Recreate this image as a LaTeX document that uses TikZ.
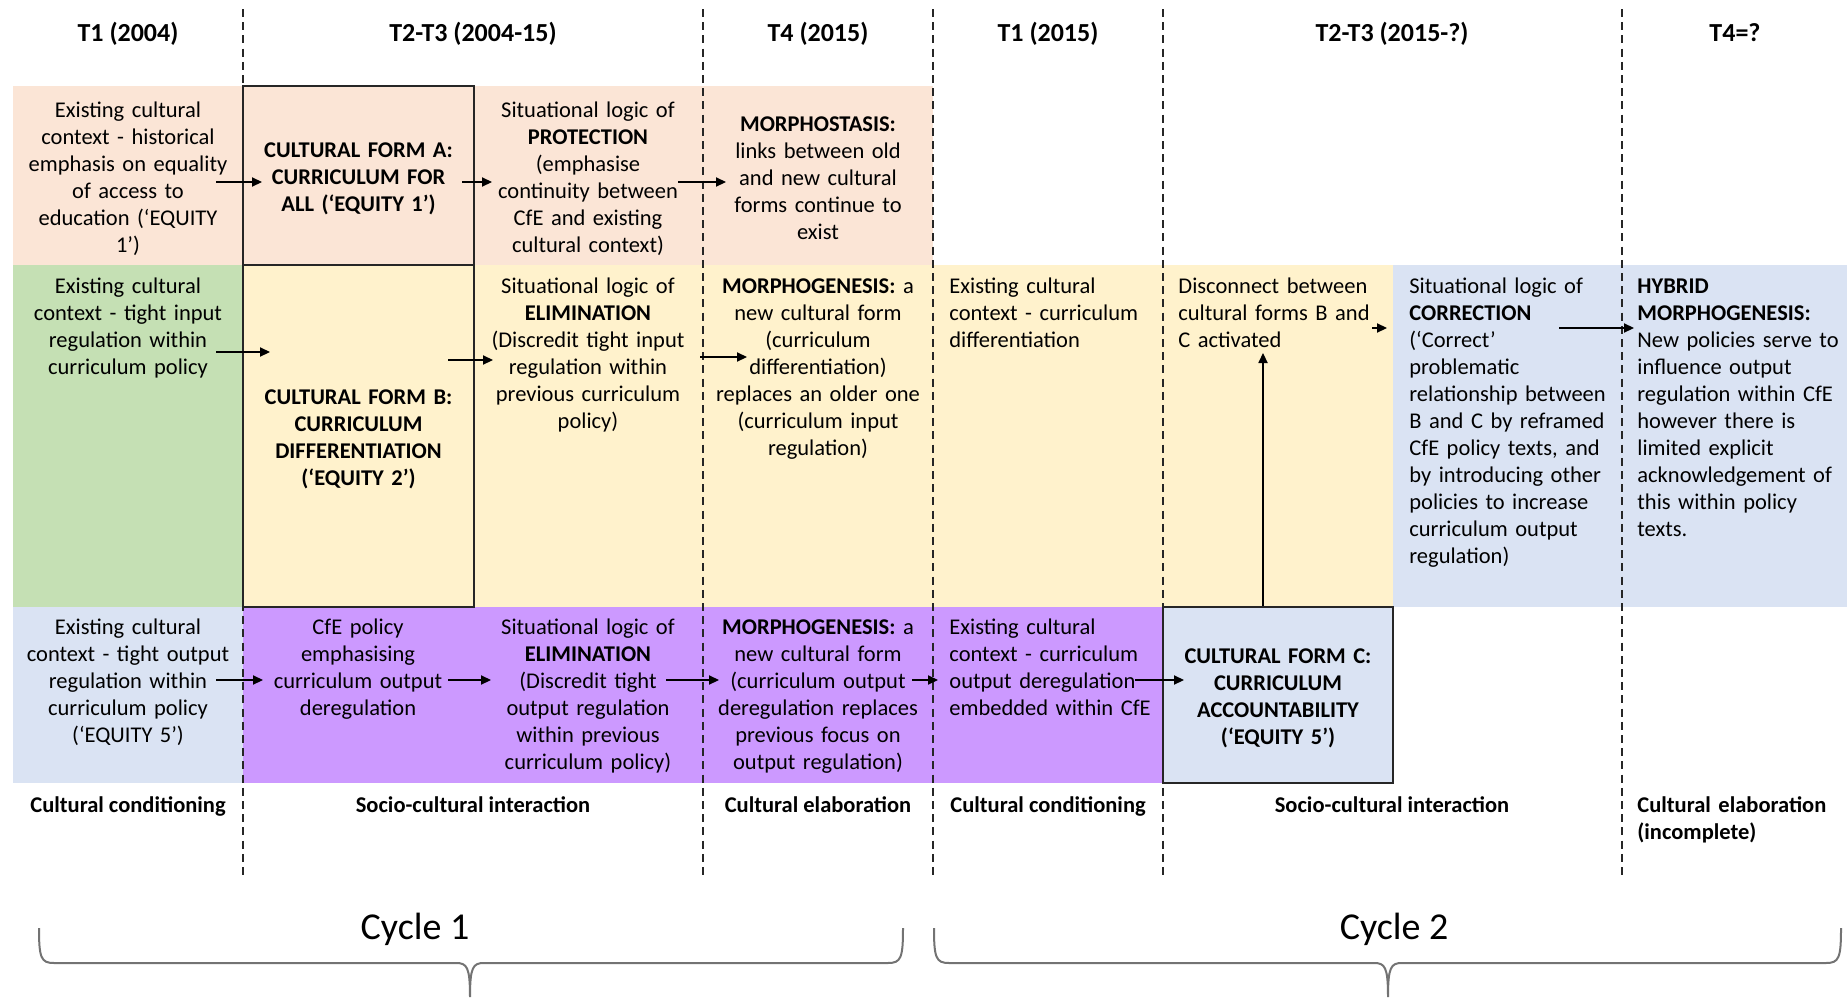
\documentclass[tikz,border=0pt]{standalone}
\usepackage{fontspec}
\setmainfont{Carlito}
\usetikzlibrary{arrows.meta}

\definecolor{peach}{RGB}{251,229,214}
\definecolor{sage}{RGB}{197,224,180}
\definecolor{cream}{RGB}{255,242,204}
\definecolor{mist}{RGB}{218,227,243}
\definecolor{lilac}{RGB}{204,153,255}

\tikzset{
  txt/.style={inner sep=0pt, text=black, font=\fontsize{11.25}{13.5}\selectfont,
    execute at begin node=\strut, execute at end node=\strut},
  cellC/.style={txt, text width=112pt, align=center},
  cellL/.style={txt, text width=112pt, align=left, anchor=north west},
  formbox/.style={draw=black!85, line width=1.3pt, inner sep=0pt,
    font=\fontsize{11.25}{13.5}\selectfont\bfseries, text width=110pt, align=center,
    execute at begin node={\rule{0pt}{12.6pt}}, execute at end node=\strut},
  hdr/.style={inner sep=0pt, anchor=base, font=\fontsize{13}{15.6}\selectfont\bfseries},
  foot/.style={inner sep=0pt, anchor=base, font=\fontsize{11.25}{13.5}\selectfont\bfseries},
  cyc/.style={inner sep=0pt, anchor=base, font=\fontsize{19}{23}\selectfont},
  flow/.style={-{Triangle[length=5pt,width=4.6pt]}, line width=0.6pt, black},
  sep/.style={line width=1pt, dash pattern=on 4pt off 2.6pt, black!85},
  brc/.style={line width=1pt, black!55},
}

\begin{document}
\begin{tikzpicture}[x=0.5pt,y=-0.5pt]
\useasboundingbox (0,0) rectangle (1847,997);

% coloured bands of the three rows
\fill[peach] (13,86) rectangle (933,265);
\fill[sage]  (13,265) rectangle (243,607);
\fill[cream] (243,265) rectangle (1393,607);
\fill[mist]  (1393,265) rectangle (1847,607);
\fill[mist]  (13,607) rectangle (243,783);
\fill[lilac] (243,607) rectangle (1163,783);

% dashed phase separators
\foreach \x in {243,703,933,1163,1622}
  \draw[sep] (\x,9) -- (\x,879);

% phase headings
\node[hdr] (h1) at (128,41)  {T1 (2004)};
\node[hdr] (h2) at (473,41)  {T2-T3 (2004-15)};
\node[hdr] (h3) at (818,41)  {T4 (2015)};
\node[hdr] (h4) at (1048,41) {T1 (2015)};
\node[hdr] (h5) at (1392,41) {T2-T3 (2015-?)};
\node[hdr] (h6) at (1735,41) {T4=?};

% cultural forms
\node[formbox, fill=peach, minimum width=115.5pt, minimum height=89.5pt] (formA) at (358.5,175.5)
  {CULTURAL FORM A:\\CURRICULUM FOR\\ALL (‘EQUITY 1’)};
\node[formbox, fill=cream, minimum width=115.5pt, minimum height=171pt] (formB) at (358.5,436)
  {CULTURAL FORM B:\\CURRICULUM\\DIFFERENTIATION\\(‘EQUITY 2’)};
\node[formbox, fill=mist, minimum width=115pt, minimum height=88pt] (formC) at (1278,695)
  {CULTURAL FORM C:\\CURRICULUM\\ACCOUNTABILITY\\(‘EQUITY 5’)};

% row 1
\node[cellC] (r1c1) at (128,180) {Existing cultural\\context - historical\\emphasis on equality\\of access to\\education (‘EQUITY\\1’)};
\node[cellC] (r1c3) at (588,180) {Situational logic of\\\textbf{PROTECTION}\\(emphasise\\continuity between\\CfE and existing\\cultural context)};
\node[cellC] (r1c4) at (818,180) {\textbf{MORPHOSTASIS:}\\links between old\\and new cultural\\forms continue to\\exist};

% row 2
\node[cellC, anchor=north] (r2c1) at (128,274) {Existing cultural\\context - tight input\\regulation within\\curriculum policy};
\node[cellC, anchor=north] (r2c3) at (588,274) {Situational logic of\\\textbf{ELIMINATION}\\(Discredit tight input\\regulation within\\previous curriculum\\policy)};
\node[cellC, anchor=north] (r2c4) at (818,274) {\textbf{MORPHOGENESIS:} a\\new cultural form\\(curriculum\\differentiation)\\replaces an older one\\(curriculum input\\regulation)};
\node[cellL] (r2c5) at (949,274) {Existing cultural\\context - curriculum\\differentiation};
\node[cellL] (r2c6) at (1178,274) {Disconnect between\\cultural forms B and\\C activated};
\node[cellL] (r2c7) at (1409,274) {Situational logic of\\\textbf{CORRECTION}\\(‘Correct’\\problematic\\relationship between\\B and C by reframed\\CfE policy texts, and\\by introducing other\\policies to increase\\curriculum output\\regulation)};
\node[cellL] (r2c8) at (1637,274) {\textbf{HYBRID}\\\textbf{MORPHOGENESIS:}\\New policies serve to\\influence output\\regulation within CfE\\however there is\\limited explicit\\acknowledgement of\\this within policy\\texts.};

% row 3
\node[cellC, anchor=north] (r3c1) at (128,615) {Existing cultural\\context - tight output\\regulation within\\curriculum policy\\(‘EQUITY 5’)};
\node[cellC, anchor=north] (r3c2) at (358,615) {CfE policy\\emphasising\\curriculum output\\deregulation};
\node[cellC, anchor=north] (r3c3) at (588,615) {Situational logic of\\\textbf{ELIMINATION}\\(Discredit tight\\output regulation\\within previous\\curriculum policy)};
\node[cellC, anchor=north] (r3c4) at (818,615) {\textbf{MORPHOGENESIS:} a\\new cultural form\\(curriculum output\\deregulation replaces\\previous focus on\\output regulation)};
\node[cellL] (r3c5) at (949,615) {Existing cultural\\context - curriculum\\output deregulation\\embedded within CfE};

% phase names
\node[foot] (f1) at (128,812)  {Cultural conditioning};
\node[foot] (f2) at (473,812)  {Socio-cultural interaction};
\node[foot] (f3) at (818,812)  {Cultural elaboration};
\node[foot] (f4) at (1048,812) {Cultural conditioning};
\node[foot] (f5) at (1392,812) {Socio-cultural interaction};
\node[cellL, font=\fontsize{11.25}{13.5}\selectfont\bfseries] (f6) at (1637,793) {Cultural elaboration\\(incomplete)};

% arrow end points
\coordinate (a1s) at (216,182);  \coordinate (a1e) at (262,182);
\coordinate (a2s) at (462,182);  \coordinate (a2e) at (492,182);
\coordinate (a3s) at (678,182);  \coordinate (a3e) at (726,182);
\coordinate (b1s) at (216,352);  \coordinate (b1e) at (270,352);
\coordinate (b2s) at (448,360);  \coordinate (b2e) at (493,360);
\coordinate (b3s) at (700,357);  \coordinate (b3e) at (747,357);
\coordinate (b4s) at (1372,328); \coordinate (b4e) at (1387,328);
\coordinate (b5s) at (1559,328); \coordinate (b5e) at (1634,328);
\coordinate (up)  at (1263,353);
\coordinate (c1s) at (216,680);  \coordinate (c1e) at (263,680);
\coordinate (c2s) at (448,680);  \coordinate (c2e) at (491,680);
\coordinate (c3s) at (666,680);  \coordinate (c3e) at (719,680);
\coordinate (c4s) at (912,680);  \coordinate (c4e) at (938,680);
\coordinate (c5s) at (1135,680); \coordinate (c5e) at (1184,680);

\draw[flow] (a1s) -- (a1e);
\draw[flow] (a2s) -- (a2e);
\draw[flow] (a3s) -- (a3e);
\draw[flow] (b1s) -- (b1e);
\draw[flow] (b2s) -- (b2e);
\draw[flow] (b3s) -- (b3e);
\draw[flow] (b4s) -- (b4e);
\draw[flow] (b5s) -- (b5e);
\draw[flow] (formC.north -| up) -- (up);
\draw[flow] (c1s) -- (c1e);
\draw[flow] (c2s) -- (c2e);
\draw[flow] (c3s) -- (c3e);
\draw[flow] (c4s) -- (c4e);
\draw[flow] (c5s) -- (c5e);

% cycle braces
\node[cyc] (cyc1) at (415,939)  {Cycle 1};
\node[cyc] (cyc2) at (1394,939) {Cycle 2};
\draw[brc] (39,928) .. controls (39,958) and (41,963) .. (54,963) -- (456,963)
  .. controls (467,963) and (470,967) .. (470,997)
  .. controls (470,967) and (473,963) .. (484,963) -- (888,963)
  .. controls (901,963) and (903,958) .. (903,928);
\draw[brc] (934,928) .. controls (934,958) and (936,963) .. (949,963) -- (1374,963)
  .. controls (1385,963) and (1388,967) .. (1388,997)
  .. controls (1388,967) and (1391,963) .. (1402,963) -- (1826,963)
  .. controls (1839,963) and (1841,958) .. (1841,928);
\end{tikzpicture}
\end{document}
